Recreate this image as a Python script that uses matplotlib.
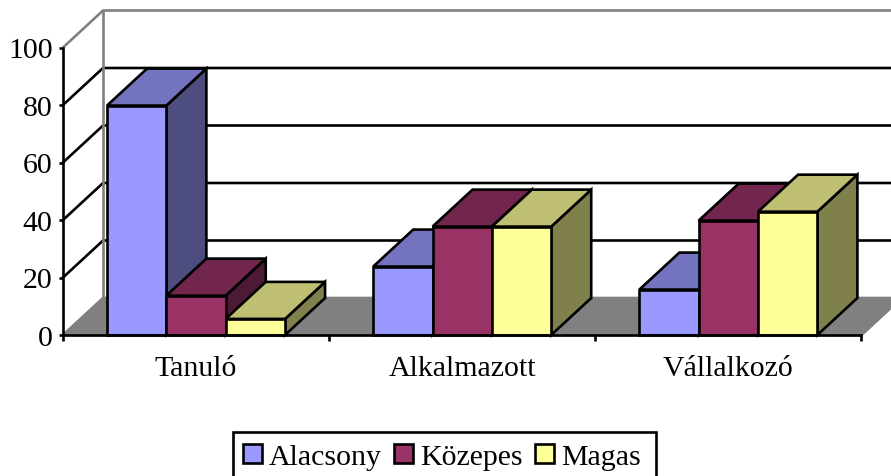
import matplotlib
matplotlib.use("Agg")
import matplotlib.pyplot as plt
from matplotlib.patches import Patch, Rectangle

categories = ["Tanuló", "Alkalmazott", "Vállalkozó"]
series_names = ["Alacsony", "Közepes", "Magas"]
alacsony = [79.8, 13.7, 5.6]
kozepes = [23.8, 37.7, 37.7]
magas = [15.8, 39.8, 42.9]
groups = [alacsony, kozepes, magas]  # one row per category
y_ticks = [0, 20, 40, 60, 80, 100]

front_colors = ["#9999FF", "#993366", "#FFFF99"]
top_colors = ["#7373BF", "#73264D", "#BFBF73"]
side_colors = ["#4D4D80", "#4D1A33", "#80804D"]
GREY = "#808080"
LW = 1.9

W, H = 891, 477
plt.rcParams["font.family"] = ["Liberation Serif", "DejaVu Serif"]
FS = 21.5

fig = plt.figure(figsize=(W / 100, H / 100), dpi=100, facecolor="white")
# plot frame in pixels: x 63..861, y 336 (value 0) .. 48.5 (value 100)
ax = fig.add_axes([63 / W, 1 - 336 / H, (861.5 - 63) / W, (336 - 48.5) / H])
ax.set_xlim(0, 3)
ax.set_ylim(0, 100)
ax.patch.set_alpha(0)

# oblique depth of the pseudo-3D box, in data units
DX = 40 / 266
DY = 37 / 2.875

# floor
ax.fill([0, DX, 3 + DX, 3], [0, DY, DY, 0],
        facecolor=GREY, edgecolor=GREY, lw=LW, clip_on=False, zorder=1)

# gridlines on the side and back walls
for v in y_ticks[1:]:
    c = GREY if v == 100 else "black"
    ax.plot([0, DX, 3 + DX], [v, v + DY, v + DY], color=c, lw=LW,
            clip_on=False, zorder=2, solid_joinstyle="miter")
ax.plot([DX, DX], [DY, 100 + DY], color=GREY, lw=LW, clip_on=False, zorder=2.5)

# bars, left to right so nearer faces overlap correctly
bar_w = 59.3 / 266
z = 3
for i, row in enumerate(groups):
    start = i + 44 / 266
    for j, v in enumerate(row):
        x0 = start + j * bar_w
        x1 = x0 + bar_w
        common = dict(edgecolor="black", lw=LW, clip_on=False, joinstyle="miter")
        ax.fill([x1, x1 + DX, x1 + DX, x1], [0, DY, v + DY, v],
                facecolor=side_colors[j], zorder=z, **common)
        ax.fill([x0, x0 + DX, x1 + DX, x1], [v, v + DY, v + DY, v],
                facecolor=top_colors[j], zorder=z, **common)
        ax.bar(x0, v, width=bar_w, align="edge", color=front_colors[j],
               edgecolor="black", lw=LW, clip_on=False, zorder=z + 0.5)
        z += 1

# axes
for s in ("top", "right"):
    ax.spines[s].set_visible(False)
for s in ("left", "bottom"):
    ax.spines[s].set_linewidth(LW)
    ax.spines[s].set_zorder(z + 1)
ax.set_yticks(y_ticks)
ax.set_yticklabels([str(v) for v in y_ticks], fontsize=FS)
ax.tick_params(axis="y", length=3, width=LW, pad=4.5)
ax.set_xticks(range(4))
ax.set_xticklabels([])
ax.tick_params(axis="x", which="major", length=4.5, width=LW)
ax.set_xticks([0.5, 1.5, 2.5], minor=True)
ax.set_xticklabels(categories, minor=True, fontsize=FS)
ax.tick_params(axis="x", which="minor", length=0, pad=14.5)

# legend frame runs off the bottom edge of the figure
fig.add_artist(Rectangle((233 / W, -10 / H), (655.5 - 233) / W, (477 + 10 - 433) / H,
                         transform=fig.transFigure, facecolor="white",
                         edgecolor="black", lw=LW))
handles = [Patch(facecolor=c, edgecolor="black", lw=LW) for c in front_colors]
leg = fig.legend(handles, series_names, loc="upper left",
                 bbox_to_anchor=(243 / W, 1 - 445 / H),
                 bbox_transform=fig.transFigure, ncol=3, fontsize=FS,
                 frameon=False, borderaxespad=0, borderpad=0,
                 handlelength=0.62, handleheight=0.62,
                 handletextpad=0.24, columnspacing=0.42)

fig.savefig("out.png", dpi=100)
